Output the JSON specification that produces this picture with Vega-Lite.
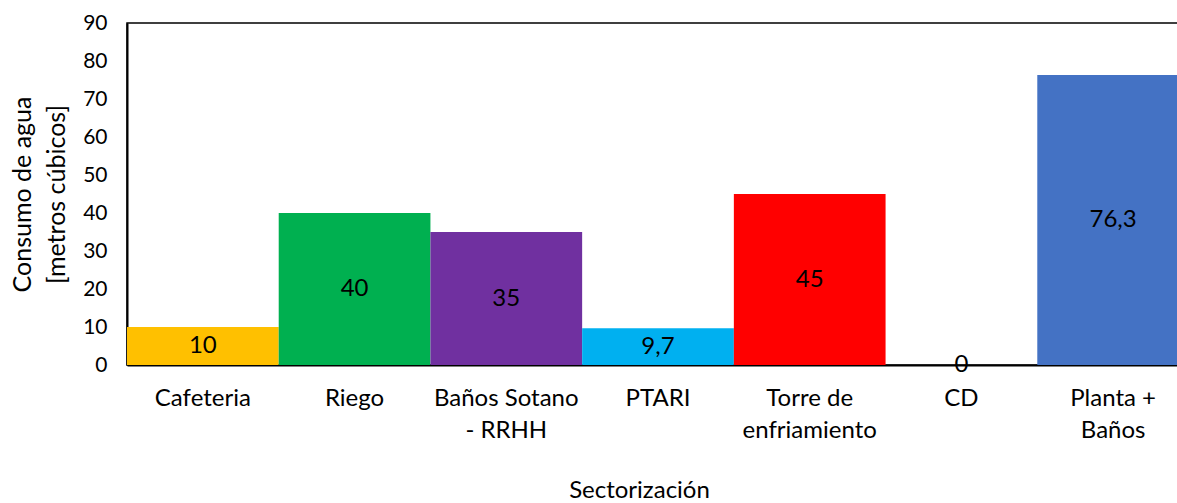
{
  "$schema": "https://vega.github.io/schema/vega-lite/v6.json",
  "autosize": {"type": "none"},
  "padding": {"left": 127, "top": 23, "right": 0, "bottom": 138},
  "width": 1062,
  "height": 342,
  "background": "white",
  "config": {
    "font": "Lato",
    "locale": {"number": {"decimal": ",", "thousands": ".", "grouping": [3], "currency": ["", ""]}},
    "view": {"stroke": "black", "strokeWidth": 1.5},
    "axis": {"grid": false, "ticks": false, "domainColor": "black", "domainWidth": 2, "labelColor": "black", "titleColor": "black", "labelFont": "Lato", "titleFont": "Lato", "titleFontWeight": "normal", "labelOverlap": false}
  },
  "data": {
    "values": [
      {"sector": "Cafeteria", "consumo": 10},
      {"sector": "Riego", "consumo": 40},
      {"sector": "Baños Sotano - RRHH", "consumo": 35},
      {"sector": "PTARI", "consumo": 9.7},
      {"sector": "Torre de enfriamiento", "consumo": 45},
      {"sector": "CD", "consumo": 0},
      {"sector": "Planta + Baños", "consumo": 76.3}
    ]
  },
  "resolve": {"axis": {"y": "independent"}},
  "encoding": {
    "x": {
      "field": "sector", "type": "nominal", "sort": null,
      "scale": {"paddingInner": 0, "paddingOuter": 0},
      "axis": {
        "title": "Sectorización", "titleFontSize": 24, "titleX": 512, "titleY": 125, "titleBaseline": "middle",
        "labelAngle": 0, "labelFontSize": 24, "labelPadding": 21, "labelLineHeight": 32, "labelBaseline": "top",
        "labelExpr": "datum.value == 'Baños Sotano - RRHH' ? ['Baños Sotano', '- RRHH'] : datum.value == 'Torre de enfriamiento' ? ['Torre de', 'enfriamiento'] : datum.value == 'Planta + Baños' ? ['Planta +', 'Baños'] : datum.value"
      }
    }
  },
  "layer": [
    {
      "mark": {"type": "bar"},
      "encoding": {
        "y": {
          "field": "consumo", "type": "quantitative",
          "scale": {"domain": [0, 90], "nice": false},
          "axis": {
            "title": ["Consumo de agua", "[metros cúbicos]"], "titleFontSize": 25, "titleAngle": -90,
            "titleX": -117, "titleY": 171, "titleAlign": "center", "titleBaseline": "top", "titleLineHeight": 34,
            "values": [0, 10, 20, 30, 40, 50, 60, 70, 80, 90], "labelFontSize": 21, "labelPadding": 20, "labelOverlap": false
          }
        },
        "color": {
          "field": "sector", "type": "nominal", "legend": null,
          "scale": {
            "domain": ["Cafeteria", "Riego", "Baños Sotano - RRHH", "PTARI", "Torre de enfriamiento", "CD", "Planta + Baños"],
            "range": ["#FFC000", "#00B050", "#7030A0", "#00B0F0", "#FF0000", "#FFFFFF", "#4472C4"]
          }
        }
      }
    },
    {
      "transform": [{"calculate": "datum.consumo / 2", "as": "mid"}],
      "mark": {"type": "text", "fontSize": 24, "color": "black", "baseline": "middle", "align": "center"},
      "encoding": {
        "y": {"field": "mid", "type": "quantitative", "axis": null},
        "text": {"field": "consumo", "type": "quantitative", "format": ".1~f"}
      }
    }
  ]
}
